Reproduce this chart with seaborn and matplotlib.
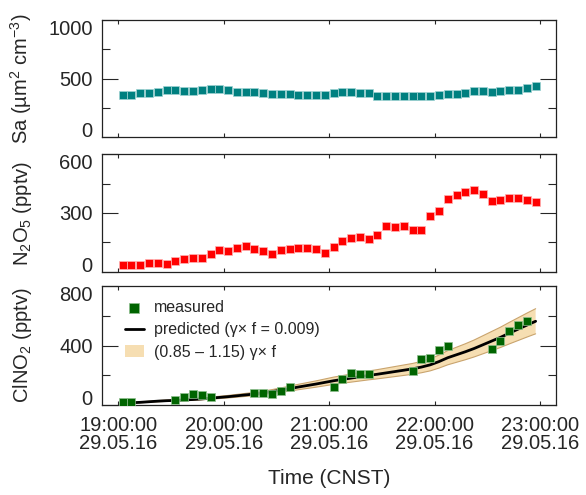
import numpy as np
import pandas as pd
import matplotlib
matplotlib.use('Agg')
import matplotlib.pyplot as plt
import matplotlib.dates as mdates
from matplotlib.ticker import MultipleLocator
import seaborn as sns

# 5-min data, first sample centred at 19:02:30
time_start = '2016-05-29 19:02:30'

sa = [361, 364, 375, 375, 384, 400, 403, 395, 395, 403, 412, 409,
      403, 389, 384, 384, 381, 366, 366, 366, 358, 358, 361, 364,
      381, 386, 384, 381, 375, 355, 349, 352, 352, 352, 349, 349,
      358, 366, 366, 375, 395, 398, 389, 395, 406, 406, 423, 440]

n2o5 = [32, 35, 35, 42, 47, 39, 54, 66, 71, 68, 90, 112,
        108, 122, 130, 118, 108, 93, 112, 118, 123, 123, 117, 95,
        128, 159, 174, 177, 169, 189, 233, 230, 232, 211, 213, 287,
        308, 374, 394, 406, 416, 397, 362, 367, 377, 377, 367, 357]

nan = np.nan
clno2 = [18, 20, nan, nan, nan, nan, 32, 52, 72, 67, 55, nan,
         nan, nan, nan, 80, 82, 72, 97, 121, nan, nan, nan, nan,
         120, 174, 217, 208, 206, nan, nan, nan, nan, 230, 306, 317,
         370, 398, nan, nan, nan, nan, 378, 428, 500, 535, 562, nan]

predicted = [12, 15, 18, 22, 26, 29, 31, 34, 37, 41, 46, 51,
             56, 62, 68, 74, 81, 90, 100, 110, 121, 131, 141, 152,
             163, 172, 181, 190, 199, 207, 216, 225, 234, 243, 255, 270,
             292, 318, 338, 358, 380, 405, 430, 455, 483, 510, 537, 563]

band_low, band_high = 0.85, 1.15

# y ticks of each panel
sa_ticks = [0, 500, 1000]
n2o5_ticks = [0, 300, 600]
clno2_ticks = [0, 400, 800]

times = pd.date_range(time_start, periods=len(sa), freq='5min')
df = pd.DataFrame({'time': times, 'sa': sa, 'n2o5': n2o5,
                   'clno2': clno2, 'pred': predicted})
df['low'] = df['pred'] * band_low
df['high'] = df['pred'] * band_high

sns.set_style('ticks')
plt.rcParams['font.family'] = ['Liberation Sans', 'DejaVu Sans']
plt.rcParams['mathtext.fontset'] = 'custom'
plt.rcParams['mathtext.rm'] = 'Liberation Sans'
plt.rcParams['mathtext.it'] = 'Liberation Sans:italic'
plt.rcParams['axes.linewidth'] = 0.9

fig = plt.figure(figsize=(5.86, 4.95), dpi=100)
L, W = 0.1746, 0.7737
ax1 = fig.add_axes([L, 0.7226, W, 0.2370])
ax2 = fig.add_axes([L, 0.4511, W, 0.2372])
ax3 = fig.add_axes([L, 0.1818, W, 0.2404])

sns.scatterplot(data=df, x='time', y='sa', ax=ax1, marker='s', s=30,
                color='#008080', edgecolor='#9fd3d3', linewidth=0.5)
sns.scatterplot(data=df, x='time', y='n2o5', ax=ax2, marker='s', s=30,
                color='#ff0000', edgecolor='#ffb4b4', linewidth=0.5)

lab_band = '(0.85 \u2013 1.15) \u03b3\u00d7 f'
lab_pred = 'predicted (\u03b3\u00d7 f = 0.009)'
ax3.fill_between(df['time'], df['low'], df['high'], facecolor='#f6deb2',
                 edgecolor='none', label=lab_band, zorder=1)
ax3.plot(df['time'], df['low'], color='#c9a46e', lw=0.8, zorder=1.5)
ax3.plot(df['time'], df['high'], color='#c9a46e', lw=0.8, zorder=1.5)
sns.lineplot(data=df, x='time', y='pred', ax=ax3, color='black', lw=2,
             label=lab_pred, zorder=2)
sns.scatterplot(data=df, x='time', y='clno2', ax=ax3, marker='s', s=30,
                color='#006400', edgecolor='#8fc08f', linewidth=0.5,
                label='measured', zorder=3)

h, l = ax3.get_legend_handles_labels()
order = [l.index('measured'), l.index(lab_pred), l.index(lab_band)]
ax3.legend([h[i] for i in order], [l[i] for i in order], loc='upper left',
           bbox_to_anchor=(0.025, 0.975), frameon=False, fontsize=11.5,
           handlelength=1.2, handletextpad=0.6, labelspacing=0.45,
           markerscale=1.2, borderaxespad=0.3)

xmin = pd.Timestamp('2016-05-29 18:50:55')
xmax = pd.Timestamp('2016-05-29 23:08:55')

yticks = [sa_ticks, n2o5_ticks, clno2_ticks]
ylabels = ['Sa (\u00b5m$^{2}$ cm$^{-3}$)', 'N$_{2}$O$_{5}$ (pptv)', 'ClNO$_{2}$ (pptv)']
axes = [ax1, ax2, ax3]
for ax, ticks, lab in zip(axes, yticks, ylabels):
    ax.set_xlim(xmin, xmax)
    ax.set_ylim(ticks[0], ticks[-1])
    ax.set_yticks(ticks)
    ax.yaxis.set_minor_locator(MultipleLocator(ticks[1] / 2))
    ax.xaxis.set_major_locator(mdates.HourLocator())
    ax.xaxis.set_major_formatter(mdates.DateFormatter('%H:%M:%S\n%d.%m.%y'))
    ax.tick_params(axis='y', which='major', direction='in', length=11.5,
                   width=0.8, left=True, right=True, labelsize=14.5, pad=7)
    ax.tick_params(axis='y', which='minor', direction='in', length=5.5,
                   width=0.8, left=True, right=True)
    ax.tick_params(axis='x', which='major', direction='in', length=3,
                   width=0.8, top=True, bottom=True, labelsize=14.5, pad=8)
    ax.set_ylabel(lab, fontsize=14.5)
    ax.yaxis.set_label_coords(-0.15, 0.5)
    ax.set_xlabel('')
    for sp in ax.spines.values():
        sp.set_color('#222222')

ax1.tick_params(axis='x', labelbottom=False)
ax2.tick_params(axis='x', labelbottom=False)
ax3.set_xlabel('Time (CNST)', fontsize=15, labelpad=12)

# end labels kept inside the axis range, as in the original
for ax in axes:
    ticks = ax.yaxis.get_major_ticks()
    ticks[0].label1.set_verticalalignment('baseline')
    ticks[-1].label1.set_verticalalignment('top')
for tick in ax3.xaxis.get_major_ticks():
    tick.label1.set_linespacing(0.9)

fig.savefig('out.png', dpi=100)
